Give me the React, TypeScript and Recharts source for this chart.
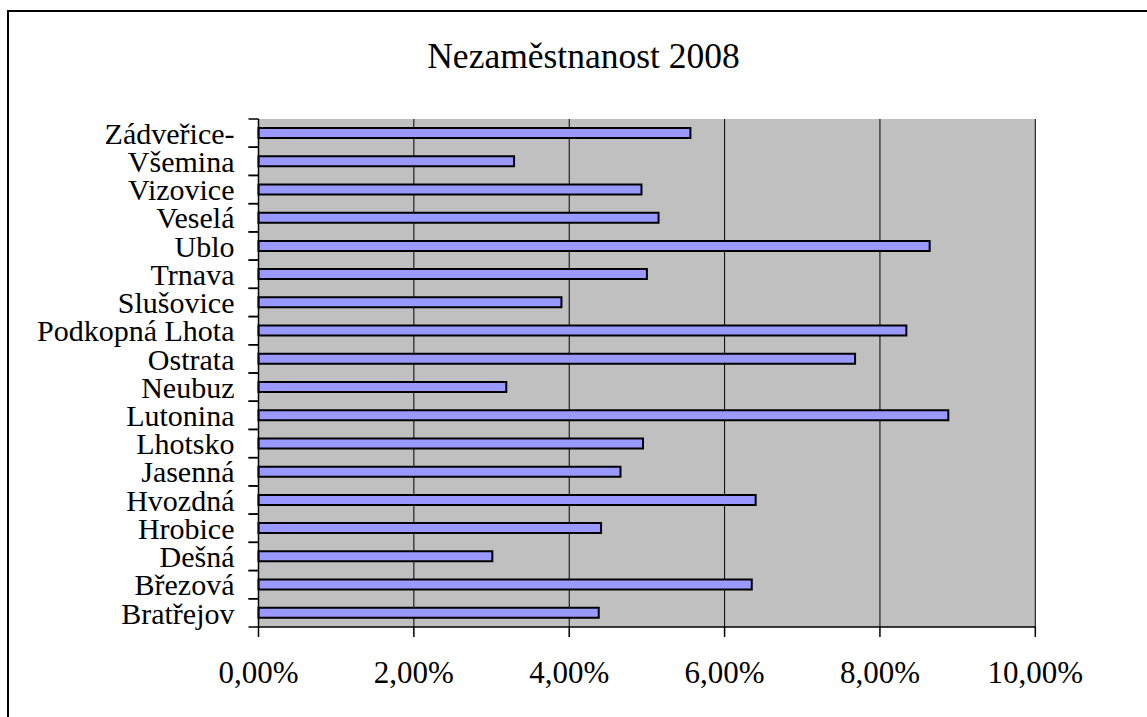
import { BarChart, Bar, XAxis, YAxis, CartesianGrid } from 'recharts';

// obce, v poradi jako v tabulce (Excel kresli prvni dole)
const obce = [
  'Bratřejov',
  'Březová',
  'Dešná',
  'Hrobice',
  'Hvozdná',
  'Jasenná',
  'Lhotsko',
  'Lutonina',
  'Neubuz',
  'Ostrata',
  'Podkopná Lhota',
  'Slušovice',
  'Trnava',
  'Ublo',
  'Veselá',
  'Vizovice',
  'Všemina',
  'Zádveřice-',
];

// nezamestnanost v %
const nezamestnanost = [
  4.38, 6.35, 3.01, 4.41, 6.4, 4.66, 4.95, 8.88, 3.19,
  7.68, 8.34, 3.9, 5.0, 8.64, 5.15, 4.93, 3.29, 5.56,
];

const xTicks = [0, 2, 4, 6, 8, 10];

const data = obce.map((name, i) => ({ name, value: nezamestnanost[i] }));

const FONT = '"Liberation Serif", "Times New Roman", serif';
const TICK_SIZE = 10;
const TICK_MARGIN = 14;

const formatPct = (v: number) => v.toFixed(2).replace('.', ',') + '%';

function CategoryTick(props: any) {
  const { x, y, payload } = props;
  const half = payload && typeof payload.offset === 'number' && payload.offset > 0 ? payload.offset : 14.1;
  const lx2 = x + TICK_MARGIN + TICK_SIZE;
  const lx1 = x + TICK_MARGIN;
  return (
    <g>
      <line x1={lx1} x2={lx2} y1={y - half} y2={y - half} stroke="#000" strokeWidth={1.5} />
      <line x1={lx1} x2={lx2} y1={y + half} y2={y + half} stroke="#000" strokeWidth={1.5} />
      <text x={x} y={y} dy="0.355em" textAnchor="end" fontFamily={FONT} fontSize={30} fill="#000">
        {payload.value}
      </text>
    </g>
  );
}

export default function App() {
  return (
    <div style={{ position: 'fixed', left: 0, top: 0, width: 1147, height: 717, overflow: 'hidden', background: '#fff' }}>
      <div
        style={{
          position: 'absolute',
          left: 7,
          top: 10,
          width: 1300,
          height: 900,
          borderLeft: '2px solid #000',
          borderTop: '2px solid #000',
        }}
      />
      <BarChart
        width={1147}
        height={717}
        data={data}
        layout="vertical"
        margin={{ top: 119, right: 111.7, bottom: 30, left: 0 }}
        style={{ position: 'absolute', left: 0, top: 0 }}
      >
        <CartesianGrid horizontal={false} stroke="#000" fill="#C0C0C0" strokeWidth={1} />
        <XAxis
          type="number"
          domain={[0, 10]}
          ticks={xTicks}
          tickFormatter={formatPct}
          height={60}
          tickSize={TICK_SIZE}
          tickMargin={24}
          axisLine={{ stroke: '#000', strokeWidth: 1.5 }}
          tickLine={{ stroke: '#000', strokeWidth: 1.5 }}
          tick={{ fill: '#000', fontSize: 31, fontFamily: FONT }}
        />
        <XAxis
          xAxisId="top"
          orientation="top"
          type="number"
          domain={[0, 10]}
          height={0}
          tick={false}
          tickLine={false}
          axisLine={{ stroke: '#808080', strokeWidth: 2 }}
        />
        <YAxis
          type="category"
          dataKey="name"
          reversed
          width={258.5}
          interval={0}
          tickSize={TICK_SIZE}
          tickMargin={TICK_MARGIN}
          tickLine={false}
          axisLine={{ stroke: '#000', strokeWidth: 1.5 }}
          tick={<CategoryTick />}
        />
        <YAxis
          yAxisId="right"
          orientation="right"
          type="category"
          dataKey="name"
          reversed
          width={0}
          tick={false}
          tickLine={false}
          axisLine={{ stroke: '#808080', strokeWidth: 2 }}
        />
        <Bar dataKey="value" fill="#9999FF" stroke="#000" strokeWidth={2} barSize={10} isAnimationActive={false} />
      </BarChart>
      <svg width={1147} height={100} style={{ position: 'absolute', left: 0, top: 0 }}>
        <text x={583.5} y={67.7} textAnchor="middle" fontFamily={FONT} fontSize={35.5} fill="#000">
          Nezaměstnanost 2008
        </text>
      </svg>
    </div>
  );
}
